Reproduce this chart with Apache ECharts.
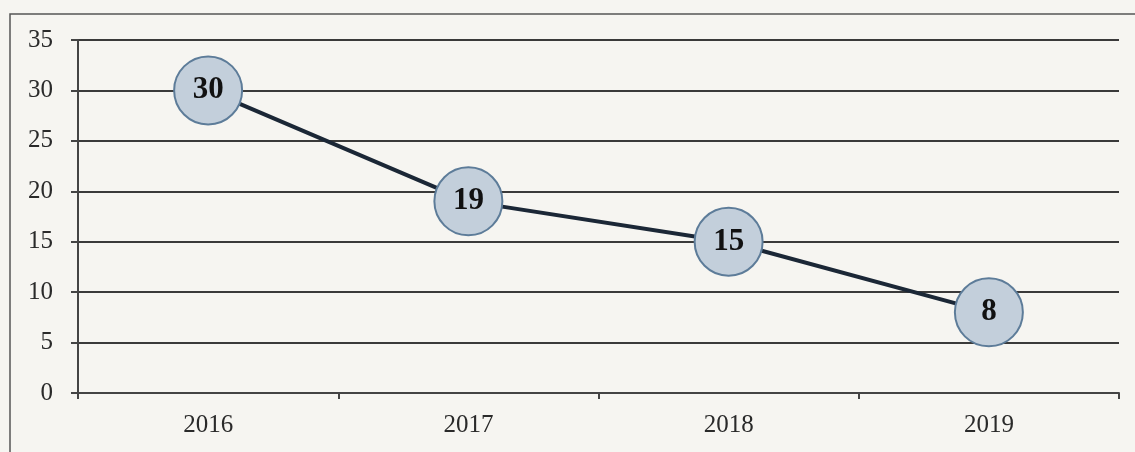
<!DOCTYPE html>
<html>
<head>
<meta charset="utf-8">
<script src="https://cdn.jsdelivr.net/npm/echarts@6/dist/echarts.min.js"></script>
<style>
  html, body { margin: 0; padding: 0; background: #f6f5f1; }
  #main { width: 1135px; height: 452px; }
</style>
</head>
<body>
<div id="main"></div>
<script>
const years = ['2016', '2017', '2018', '2019'];
const values = [30, 19, 15, 8];
const yTicks = [0, 5, 10, 15, 20, 25, 30, 35];

const chart = echarts.init(document.getElementById('main'));
const serif = '"Liberation Serif", "DejaVu Serif", serif';

chart.setOption({
    backgroundColor: '#f6f5f1',
    animation: false,
    graphic: [
        {
            type: 'rect',
            shape: { x: 10, y: 14, width: 1135, height: 460 },
            style: { fill: 'none', stroke: '#555', lineWidth: 1.5 },
            silent: true
        }
    ],
    grid: { left: 78, right: 16, top: 40, bottom: 59 },
    xAxis: {
        type: 'category',
        data: years,
        boundaryGap: true,
        axisLine: { lineStyle: { color: '#444', width: 2 } },
        axisTick: { show: true, length: 6, lineStyle: { color: '#444', width: 2 } },
        axisLabel: { color: '#2a2a2a', fontFamily: serif, fontSize: 25, margin: 20 }
    },
    yAxis: {
        type: 'value',
        min: yTicks[0],
        max: yTicks[yTicks.length - 1],
        interval: 5,
        axisLine: { show: true, lineStyle: { color: '#444', width: 2 } },
        axisTick: { show: true, length: 7, lineStyle: { color: '#444', width: 2 } },
        axisLabel: { color: '#2a2a2a', fontFamily: serif, fontSize: 25, margin: 25 },
        splitLine: { lineStyle: { color: '#3a3a3a', width: 2 } }
    },
    series: [
        {
            type: 'line',
            data: values,
            symbol: 'circle',
            symbolSize: 68,
            lineStyle: { color: '#1b2736', width: 4 },
            itemStyle: { color: '#c3cfdb', borderColor: '#5d7c99', borderWidth: 2 },
            label: {
                show: true,
                position: 'inside',
                color: '#111',
                fontFamily: serif,
                fontWeight: 'bold',
                fontSize: 31
            },
            z: 3
        }
    ]
});
</script>
</body>
</html>
